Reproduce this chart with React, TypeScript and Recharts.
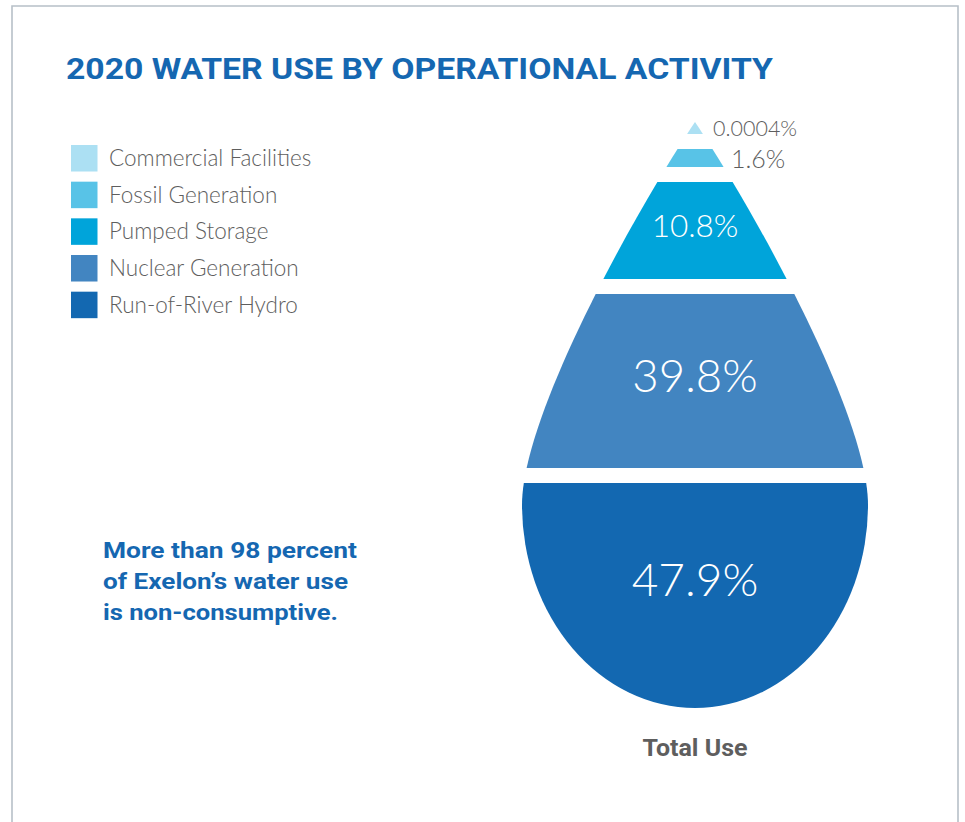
import React from 'react';
import { ComposedChart, Customized } from 'recharts';

// ---- data ----
const categories = [
  'Commercial Facilities',
  'Fossil Generation',
  'Pumped Storage',
  'Nuclear Generation',
  'Run-of-River Hydro',
];
const shares = [0.0004, 1.6, 10.8, 39.8, 47.9];
const titleText = '2020 WATER USE BY OPERATIONAL ACTIVITY';
const calloutLines = ['More than 98 percent', 'of Exelon\u2019s water use', 'is non-consumptive.'];
const baseLabel = 'Total Use';

// ---- styles ----
const palette = ['#ace0f3', '#58c3e7', '#00a4da', '#4285c1', '#1368b1'];
const BLUE = '#1567b1';
const GREY = '#5e5e5e';
const W = 965;
const H = 822;

const data = categories.map((name, i) => ({ name, value: shares[i] }));

// drop geometry (layout only)
const CX = 695;
const APEX = 122;
const MIDY = 505;
const RX = 173;
const RY = 203;
const dropPath =
  `M ${CX} ${APEX} ` +
  `C ${CX + 60} ${APEX + 90} ${CX + RX} ${MIDY - 90} ${CX + RX} ${MIDY} ` +
  `A ${RX} ${RY} 0 0 1 ${CX - RX} ${MIDY} ` +
  `C ${CX - RX} ${MIDY - 90} ${CX - 60} ${APEX + 90} ${CX} ${APEX} Z`;
const bands: [number, number][] = [
  [122, 134],
  [149, 167],
  [182, 279],
  [294, 468],
  [483, 708],
];

const fmt = (v: number) => `${v}%`;

function Drop() {
  return (
    <g>
      <defs>
        {bands.map(([y0, y1], i) => (
          <clipPath id={`band-${i}`} key={i}>
            <rect x={0} y={y0} width={W} height={y1 - y0} />
          </clipPath>
        ))}
      </defs>
      {/* frame */}
      <polyline
        points={`12,${H} 12,6 958,6 958,${H}`}
        fill="none"
        stroke="#b7c0c8"
        strokeWidth={1.6}
      />
      {/* title */}
      <text
        x={66}
        y={79}
        fontFamily="Roboto"
        fontWeight={700}
        fontSize={30}
        fill={BLUE}
        textLength={707}
        lengthAdjust="spacingAndGlyphs"
      >
        {titleText}
      </text>
      {/* legend */}
      {data.map((d, i) => {
        const top = 145 + i * 36.67;
        return (
          <g key={d.name}>
            <rect x={71} y={top} width={26.5} height={26.5} fill={palette[i]} />
            <text x={109} y={top + 21} fontFamily="Lato" fontWeight={300} fontSize={22.5} fill={GREY}>
              {d.name}
            </text>
          </g>
        );
      })}
      {/* drop segments */}
      {data.map((d, i) => (
        <path key={d.name} d={dropPath} fill={palette[i]} clipPath={`url(#band-${i})`} />
      ))}
      {/* labels */}
      <text x={713} y={136} fontFamily="Lato" fontWeight={300} fontSize={21.5} fill={GREY}>
        {fmt(data[0].value)}
      </text>
      <text x={731} y={168} fontFamily="Lato" fontWeight={300} fontSize={25} fill={GREY}>
        {fmt(data[1].value)}
      </text>
      <text x={CX} y={237} textAnchor="middle" fontFamily="Lato" fontWeight={300} fontSize={31.5} fill="#ffffff">
        {fmt(data[2].value)}
      </text>
      <text x={CX} y={392} textAnchor="middle" fontFamily="Lato" fontWeight={300} fontSize={45.5} fill="#ffffff">
        {fmt(data[3].value)}
      </text>
      <text x={CX} y={596} textAnchor="middle" fontFamily="Lato" fontWeight={300} fontSize={46} fill="#ffffff">
        {fmt(data[4].value)}
      </text>
      {/* callout */}
      {calloutLines.map((line, i) => (
        <text
          key={line}
          x={103}
          y={558 + i * 31}
          fontFamily="Roboto"
          fontWeight={700}
          fontSize={22.5}
          fill={BLUE}
          textLength={[254, 245, 235][i]}
          lengthAdjust="spacingAndGlyphs"
        >
          {line}
        </text>
      ))}
      <text
        x={CX}
        y={756}
        textAnchor="middle"
        fontFamily="Roboto"
        fontWeight={700}
        fontSize={23}
        fill={GREY}
        textLength={105}
        lengthAdjust="spacingAndGlyphs"
      >
        {baseLabel}
      </text>
    </g>
  );
}

export default function App() {
  return (
    <div style={{ position: 'absolute', left: 0, top: 0, width: W, height: H, background: '#ffffff' }}>
      <ComposedChart width={W} height={H} data={data} margin={{ top: 0, right: 0, bottom: 0, left: 0 }}>
        <Customized component={Drop} />
      </ComposedChart>
    </div>
  );
}
